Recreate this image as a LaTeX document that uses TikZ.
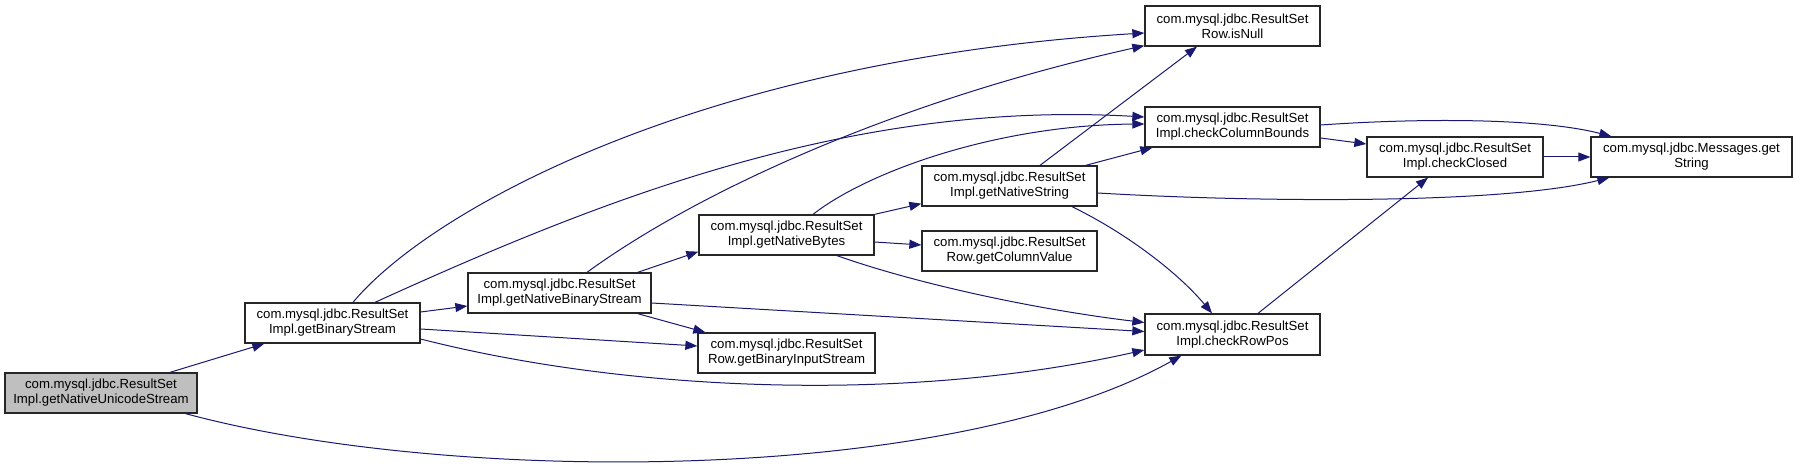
\documentclass[tikz,border=0pt]{standalone}
\usepackage{fontspec}
\setmainfont{Liberation Sans}
\usetikzlibrary{arrows.meta,calc}
\definecolor{edgec}{RGB}{25,25,112}
\definecolor{grayfill}{RGB}{191,191,191}
\begin{document}
\begin{tikzpicture}[x=1bp,y=-1bp,
  box/.style={draw=black!85,line width=1.3bp,fill=white,rectangle,inner sep=0pt,
    align=center,font=\fontsize{13.2bp}{15bp}\selectfont,minimum height=40bp,minimum width=175bp},
  edge/.style={draw=edgec,line width=1bp,-{Triangle[length=12bp,width=9bp]}}]
\useasboundingbox (0,0) rectangle (1796,467);
% nodes
\node[box,minimum width=192bp,fill=grayfill] (A) at (101,393) {com.mysql.jdbc.ResultSet\\Impl.getNativeUnicodeStream};
\node[box] (B) at (332.5,323) {com.mysql.jdbc.ResultSet\\Impl.getBinaryStream};
\node[box,minimum width=183bp] (C) at (559.5,293) {com.mysql.jdbc.ResultSet\\Impl.getNativeBinaryStream};
\node[box] (D) at (786.5,235) {com.mysql.jdbc.ResultSet\\Impl.getNativeBytes};
\node[box,minimum width=177bp] (E) at (786.5,353) {com.mysql.jdbc.ResultSet\\Row.getBinaryInputStream};
\node[box] (F) at (1009.5,186) {com.mysql.jdbc.ResultSet\\Impl.getNativeString};
\node[box] (G) at (1009.5,251) {com.mysql.jdbc.ResultSet\\Row.getColumnValue};
\node[box] (H) at (1232.5,26) {com.mysql.jdbc.ResultSet\\Row.isNull};
\node[box] (I) at (1232.5,127) {com.mysql.jdbc.ResultSet\\Impl.checkColumnBounds};
\node[box,minimum height=41bp] (J) at (1232.5,334.5) {com.mysql.jdbc.ResultSet\\Impl.checkRowPos};
\node[box,minimum width=176bp] (K) at (1455,157) {com.mysql.jdbc.ResultSet\\Impl.checkClosed};
\node[box,minimum width=201bp] (L) at (1691.5,157) {com.mysql.jdbc.Messages.get\\String};
% edges
\draw[edge] ($(A.north)+(69,0)$) -- ($(B.south west)+(20,0)$);
\draw[edge] ($(A.south east)+(-12,0)$) .. controls (450,485) and (950,485) .. ($(J.south west)+(37,0)$);
\draw[edge] ($(B.north)+(20.5,0)$) .. controls (430,210) and (700,60) .. ($(H.west)+(0,7)$);
\draw[edge] ($(B.north)+(42.5,0)$) .. controls (600,200) and (850,100) .. ($(I.west)+(0,-10)$);
\draw[edge] ($(B.east)+(0,-11)$) -- ($(C.west)+(0,13)$);
\draw[edge] ($(B.east)+(0,6)$) -- ($(E.west)+(0,-7)$);
\draw[edge] ($(B.east)+(0,16)$) .. controls (620,390) and (900,405) .. ($(J.west)+(0,15.5)$);
\draw[edge] ($(C.north)+(27.5,0)$) .. controls (700,190) and (900,100) .. ($(H.south west)+(0,-1)$);
\draw[edge] ($(C.north east)+(-14,0)$) -- ($(D.south west)+(0,-4)$);
\draw[edge] ($(C.south east)+(-14,0)$) -- ($(E.north west)+(8,0)$);
\draw[edge] ($(C.east)+(0,10)$) -- ($(J.west)+(0,-3)$);
\draw[edge] (D.north east) -- ($(F.south west)+(0,-3)$);
\draw[edge] ($(D.east)+(0,7)$) -- ($(G.west)+(0,-6)$);
\draw[edge] ($(D.north)+(26.5,0)$) .. controls (870,170) and (1000,125) .. ($(I.west)+(0,-3)$);
\draw[edge] ($(D.south)+(50.5,0)$) .. controls (920,285) and (1040,310) .. ($(J.west)+(0,-12)$);
\draw[edge] ($(F.north)+(30.5,0)$) -- ($(H.south)+(-35.5,0)$);
\draw[edge] ($(F.north east)+(-12,0)$) -- ($(I.south west)+(8,0)$);
\draw[edge] ($(F.east)+(0,7)$) .. controls (1250,202) and (1500,205) .. ($(L.south west)+(19,0)$);
\draw[edge] ($(F.south)+(62.5,0)$) .. controls (1130,235) and (1180,275) .. ($(J.north)+(-20.5,0)$);
\draw[edge] ($(I.east)+(0,11)$) -- ($(K.west)+(0,-13)$);
\draw[edge] ($(I.east)+(0,-2)$) .. controls (1420,118) and (1540,118) .. ($(L.north west)+(21,0)$);
\draw[edge] (K.east) -- (L.west);
\draw[edge] ($(J.north)+(25.5,0)$) -- ($(K.south)+(-27,0)$);
\end{tikzpicture}
\end{document}
